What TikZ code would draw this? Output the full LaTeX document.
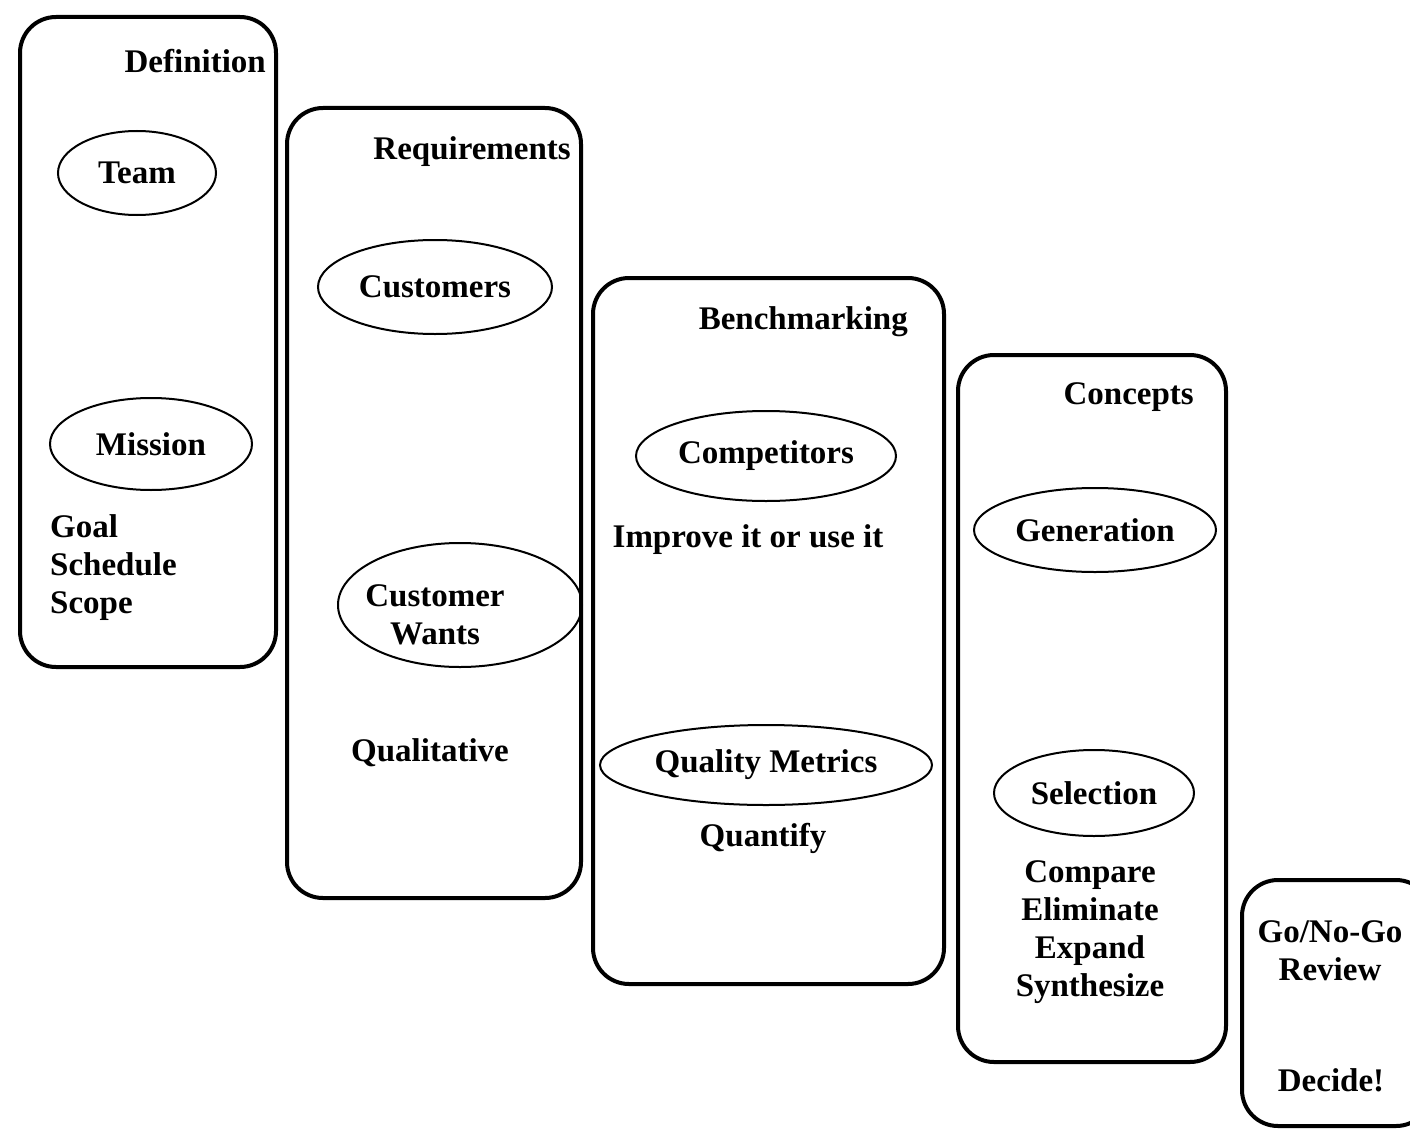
\documentclass[tikz,border=0pt]{standalone}
\usepackage{fontspec}
\setmainfont{Liberation Serif}
\usepackage{tikz}
\usetikzlibrary{shapes.geometric,positioning,calc}

\begin{document}
\begin{tikzpicture}[
    x=1pt, y=-1pt,
    font=\fontsize{33}{38}\selectfont\bfseries,
    phase/.style={draw, line width=4pt, rounded corners=36pt, inner sep=0pt},
    item/.style={ellipse, draw, line width=2pt, inner sep=0pt},
    title/.style={anchor=east, inner sep=0pt},
    note/.style={align=center, inner sep=0pt}
]
\useasboundingbox (0,0) rectangle (1410,1129);

% Phase boxes
\node[phase, minimum width=256pt, minimum height=650pt] (definition) at (148,342) {};
\node[phase, minimum width=294pt, minimum height=790pt] (requirements) at (434,503) {};
\node[phase, minimum width=351pt, minimum height=706pt] (benchmarking) at (768.5,631) {};
\node[phase, minimum width=268pt, minimum height=707pt] (concepts) at (1092,708.5) {};
\node[phase, minimum width=190pt, minimum height=246pt] (review) at (1337,1003) {};

% Titles
\node[title] at (266,61) {Definition};
\node[title] at (571,152) {Requirements};
\node[title] at (908,322) {Benchmarking};
\node[title] at (1194,397) {Concepts};

% Definition
\node[item, minimum width=158pt, minimum height=84pt] (team) at (137,173) {Team};
\node[item, minimum width=202pt, minimum height=92pt] (mission) at (151,444) {Mission};
\node[note, align=left, anchor=north west] (goals) at (50,514) {Goal\\Schedule\\Scope};

% Requirements
\node[item, minimum width=234pt, minimum height=94pt] (customers) at (435,287) {Customers};
\node[item, minimum width=244pt, minimum height=124pt] (wants) at (460,605) {};
\node[note] at ($(wants.center)+(-25,10)$) {Customer\\Wants};
\node[note] (qualitative) at (430,753) {Qualitative};

% Benchmarking
\node[item, minimum width=260pt, minimum height=90pt] (competitors) at (766,456) {Competitors};
\node[note] (improve) at (748,540) {Improve it or use it};
\node[item, minimum width=332pt, minimum height=80pt] (metrics) at (766,765) {Quality Metrics};
\node[note] (quantify) at (763,838) {Quantify};

% Concepts
\node[item, minimum width=242pt, minimum height=84pt] (generation) at (1095,530) {Generation};
\node[item, minimum width=200pt, minimum height=86pt] (selection) at (1094,793) {Selection};
\node[note, anchor=north] (actions) at (1090,860) {Compare\\Eliminate\\Expand\\Synthesize};

% Review
\node[note, anchor=north] (gonogo) at (1330,920) {Go/No-Go\\Review};
\node[note] (decide) at (1331,1080) {Decide!};

\end{tikzpicture}
\end{document}
